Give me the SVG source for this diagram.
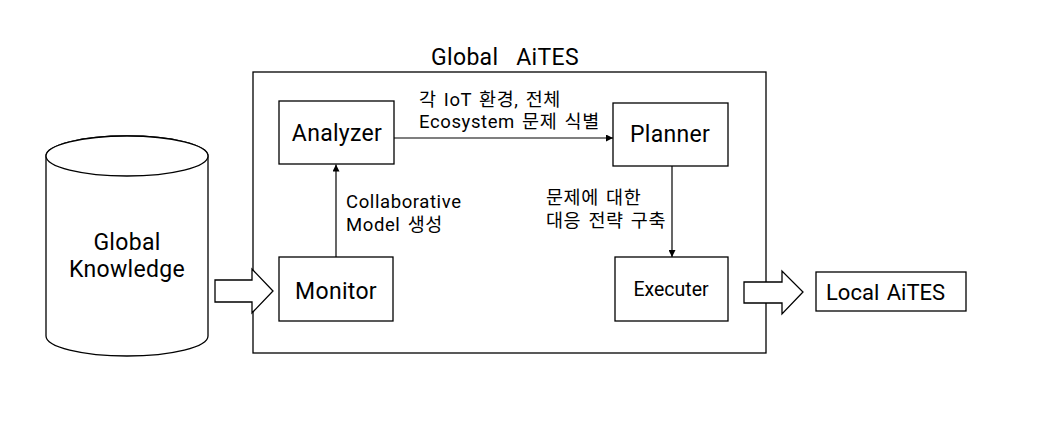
<svg xmlns="http://www.w3.org/2000/svg" width="1047" height="433" viewBox="0 0 1047 433">
<defs>
<style>
.box{fill:#fff;stroke:#000;stroke-width:1.3}
.t{font-family:Roboto,"Noto Sans CJK KR",sans-serif;fill:#000}
.big{font-size:23px;letter-spacing:0.3px}
.lab{font-size:18.5px;letter-spacing:0.6px;word-spacing:2px}
.ln{stroke:#000;stroke-width:1.2;fill:none}
</style>
<marker id="ah" viewBox="0 0 10 10" refX="10" refY="5" markerWidth="7" markerHeight="7" markerUnits="userSpaceOnUse" orient="auto">
<path d="M0,0 L10,5 L0,10 z" fill="#000"/>
</marker>
</defs>
<rect width="1047" height="433" fill="#fff"/>
<g id="global-aites">
<rect class="box" x="253" y="72" width="513" height="281"/>
<text class="t big" x="505" y="65" text-anchor="middle" xml:space="preserve">Global   AiTES</text>
</g>
<g id="global-knowledge">
<path class="box" d="M46,156 L46,336 A81,20 0 0 0 208,336 L208,156 A81,20 0 0 0 46,156 Z"/>
<ellipse class="box" cx="127" cy="156" rx="81" ry="20" fill="none"/>
<text class="t big" text-anchor="middle"><tspan x="127" y="250">Global</tspan><tspan x="127" y="277">Knowledge</tspan></text>
</g>
<g id="analyzer">
<rect class="box" x="279" y="101" width="115" height="63"/>
<text class="t big" x="337" y="141" text-anchor="middle">Analyzer</text>
</g>
<g id="planner">
<rect class="box" x="613" y="103" width="115" height="63"/>
<text class="t big" x="670" y="142" text-anchor="middle">Planner</text>
</g>
<g id="monitor">
<rect class="box" x="279" y="257" width="114" height="64"/>
<text class="t big" x="336" y="299" text-anchor="middle">Monitor</text>
</g>
<g id="executer">
<rect class="box" x="615" y="257" width="113" height="64"/>
<text class="t" font-size="19.5" x="671" y="296" text-anchor="middle">Executer</text>
</g>
<g id="local-aites">
<rect class="box" x="816" y="272" width="150" height="39"/>
<text class="t" font-size="22" x="826" y="300" word-spacing="2px">Local AiTES</text>
</g>
<g id="connectors">
<line class="ln" x1="336" y1="257" x2="336" y2="164.5" marker-end="url(#ah)"/>
<line class="ln" x1="394" y1="138" x2="613" y2="138" marker-end="url(#ah)"/>
<line class="ln" x1="672" y1="166" x2="672" y2="257" marker-end="url(#ah)"/>
<path class="box" d="M215,280 L252,280 L252,269 L273,291 L252,313 L252,302 L215,302 Z"/>
<path class="box" d="M744,282 L782,282 L782,271 L803,292 L782,314 L782,303 L744,303 Z"/>
<text class="t lab"><tspan x="419" y="106">각 IoT 환경, 전체</tspan><tspan x="419" y="128">Ecosystem 문제 식별</tspan></text>
<text class="t lab"><tspan x="346" y="208">Collaborative</tspan><tspan x="346" y="231">Model 생성</tspan></text>
<text class="t lab"><tspan x="546" y="204">문제에 대한</tspan><tspan x="546" y="227">대응 전략 구축</tspan></text>
</g>
</svg>
